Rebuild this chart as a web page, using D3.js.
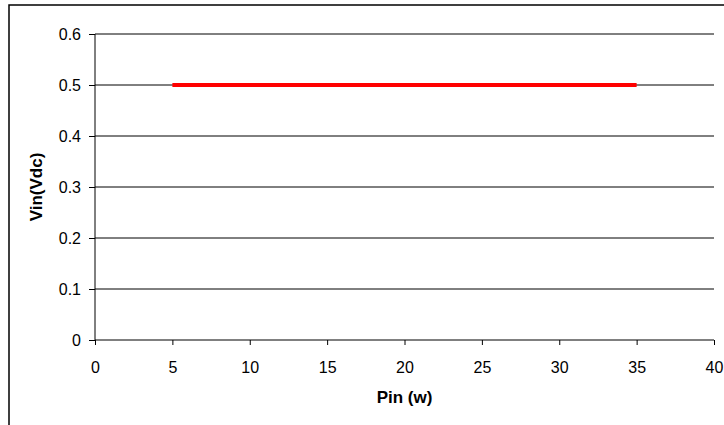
<!DOCTYPE html>
<html>
<head>
<meta charset="utf-8">
<script src="https://cdn.jsdelivr.net/npm/d3@7"></script>
<style>
html,body{margin:0;padding:0;background:#fff;overflow:hidden;}
svg{display:block;font-family:"Liberation Sans",Arial,sans-serif;}
</style>
</head>
<body>
<svg id="chart" width="724" height="425"></svg>
<script>
const pinValues = [5, 10, 15, 20, 25, 30, 35];
const vinValues = [0.5, 0.5, 0.5, 0.5, 0.5, 0.5, 0.5];
const xTicks = [0, 5, 10, 15, 20, 25, 30, 35, 40];
const yTicks = [0, 0.1, 0.2, 0.3, 0.4, 0.5, 0.6];
const xTitle = "Pin (w)";
const yTitle = "Vin(Vdc)";

const svg = d3.select("#chart");
const m = {left: 95, right: 714, top: 34, bottom: 340};

const x = d3.scaleLinear().domain([0, 40]).range([m.left, m.right]);
const y = d3.scaleLinear().domain([0, 0.6]).range([m.bottom, m.top]);

// outer chart border
svg.append("path")
  .attr("d", `M9,440 L9,5 L740,5`)
  .attr("fill", "none").attr("stroke", "#000").attr("stroke-width", 1.5);

// gridlines
svg.append("g").selectAll("line").data(yTicks.filter(d => d > 0)).join("line")
  .attr("x1", m.left).attr("x2", m.right)
  .attr("y1", d => y(d)).attr("y2", d => y(d))
  .attr("stroke", "#000").attr("stroke-width", 1);

// y axis
const yAxis = svg.append("g").attr("transform", `translate(${m.left},0)`)
  .call(d3.axisLeft(y).tickValues(yTicks).tickSize(6).tickPadding(8)
    .tickFormat(d => d === 0 ? "0" : d3.format(".1f")(d)));
yAxis.select(".domain").attr("stroke", "#000").attr("d", `M0,${m.top}V${m.bottom}`);
yAxis.selectAll("text").attr("font-size", 16).attr("fill", "#000").attr("font-family", "Liberation Sans, Arial, sans-serif");

// x axis
const xAxis = svg.append("g").attr("transform", `translate(0,${m.bottom})`)
  .call(d3.axisBottom(x).tickValues(xTicks).tickSize(5).tickPadding(17));
xAxis.select(".domain").attr("stroke", "#000").attr("d", `M${m.left},0H${m.right}`);
xAxis.selectAll("text").attr("font-size", 16).attr("fill", "#000").attr("font-family", "Liberation Sans, Arial, sans-serif");

// series line
const line = d3.line().x((d, i) => x(pinValues[i])).y(d => y(d));
svg.append("path").datum(vinValues)
  .attr("d", line)
  .attr("fill", "none").attr("stroke", "#ff0000").attr("stroke-width", 4);

// axis titles
svg.append("text")
  .attr("x", (m.left + m.right) / 2).attr("y", 403)
  .attr("text-anchor", "middle").attr("font-size", 17).attr("font-weight", "bold")
  .text(xTitle);
svg.append("text")
  .attr("transform", `translate(42,${(m.top + m.bottom) / 2}) rotate(-90)`)
  .attr("text-anchor", "middle").attr("font-size", 17).attr("font-weight", "bold")
  .text(yTitle);
</script>
</body>
</html>
